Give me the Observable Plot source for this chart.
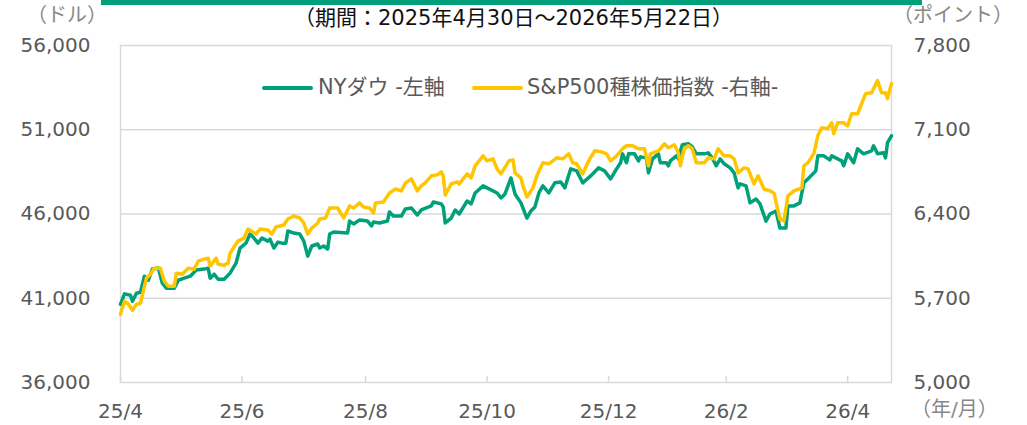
<!DOCTYPE html>
<html><head><meta charset="utf-8">
<script src="https://cdn.jsdelivr.net/npm/d3@7"></script>
<script src="https://cdn.jsdelivr.net/npm/@observablehq/plot@0.6"></script>
<style>
body{margin:0;background:#fff;}
#wrap{position:relative;width:1027px;height:425px;font-family:"DejaVu Sans","Noto Sans CJK JP",sans-serif;overflow:hidden;}
#wrap svg{position:absolute;left:0;top:0;}
.abs{position:absolute;white-space:nowrap;line-height:1;z-index:2;}
</style></head><body><div id="wrap"></div>
<script>
// ---- data ----
const xStart = "2025-04-30";
const xEnd = "2026-05-22";
const dowTicks = [36000, 41000, 46000, 51000, 56000];
const spTicks = [5000, 5700, 6400, 7100, 7800];
const tickDates = ["2025-04-30","2025-06-30","2025-08-31","2025-10-31","2025-12-31","2026-02-28","2026-04-30"];
const tickLabels = ["25/4","25/6","25/8","25/10","25/12","26/2","26/4"];
const titleText = "（期間：2025年4月30日～2026年5月22日）";
const leftUnit = "（ドル）", rightUnit = "（ポイント）", xUnit = "（年/月）";
const seriesNames = ["NYダウ -左軸", "S&P500種株価指数 -右軸-"];

const dowDates = ["2025-04-30","2025-05-02","2025-05-05","2025-05-06","2025-05-08","2025-05-10","2025-05-12","2025-05-14","2025-05-16","2025-05-19",
"2025-05-21","2025-05-23","2025-05-27","2025-05-29","2025-06-01","2025-06-04","2025-06-05","2025-06-07","2025-06-11","2025-06-13",
"2025-06-14","2025-06-16","2025-06-18","2025-06-21","2025-06-24","2025-06-27","2025-06-29","2025-07-02","2025-07-04","2025-07-06",
"2025-07-08","2025-07-10","2025-07-13","2025-07-14","2025-07-16","2025-07-18","2025-07-20","2025-07-22","2025-07-23","2025-07-26",
"2025-07-29","2025-07-31","2025-08-02","2025-08-04","2025-08-07","2025-08-08","2025-08-10","2025-08-12","2025-08-13","2025-08-15",
"2025-08-22","2025-08-23","2025-08-25","2025-08-28","2025-09-01","2025-09-03","2025-09-04","2025-09-07","2025-09-11","2025-09-12",
"2025-09-14","2025-09-18","2025-09-20","2025-09-23","2025-09-26","2025-09-28","2025-10-03","2025-10-04","2025-10-08","2025-10-09",
"2025-10-10","2025-10-13","2025-10-15","2025-10-17","2025-10-21","2025-10-23","2025-10-25","2025-10-29","2025-10-31","2025-11-05",
"2025-11-07","2025-11-09","2025-11-12","2025-11-14","2025-11-17","2025-11-20","2025-11-22","2025-11-24","2025-11-26","2025-11-28",
"2025-12-01","2025-12-04","2025-12-07","2025-12-09","2025-12-12","2025-12-15","2025-12-18","2025-12-22","2025-12-26","2025-12-29",
"2026-01-01","2026-01-04","2026-01-06","2026-01-07","2026-01-09","2026-01-10","2026-01-13","2026-01-15","2026-01-16","2026-01-19",
"2026-01-20","2026-01-22","2026-01-25","2026-01-26","2026-01-29","2026-01-30","2026-01-31","2026-02-03","2026-02-04","2026-02-06",
"2026-02-09","2026-02-11","2026-02-13","2026-02-17","2026-02-19","2026-02-21","2026-02-23","2026-02-25","2026-02-27","2026-03-02",
"2026-03-04","2026-03-06","2026-03-07","2026-03-10","2026-03-12","2026-03-15","2026-03-17","2026-03-20","2026-03-22","2026-03-25",
"2026-03-27","2026-03-30","2026-03-31","2026-04-03","2026-04-06","2026-04-08","2026-04-10","2026-04-14","2026-04-15","2026-04-18",
"2026-04-21","2026-04-22","2026-04-27","2026-04-28","2026-04-30","2026-05-03","2026-05-05","2026-05-08","2026-05-12","2026-05-13",
"2026-05-15","2026-05-18","2026-05-19","2026-05-20","2026-05-22"];
const dowValues = [40640,41260,41180,40820,41300,41360,42310,42070,42730,42790,
41890,41600,41600,42070,42190,42310,42430,42670,42730,42790,
42190,42430,42130,42130,42490,43080,43980,44270,44810,44570,
44270,44570,44390,44510,43980,44330,44270,44270,44990,44870,
44810,44390,43500,44100,44220,43980,44100,43920,44810,44930,
44870,45580,45410,45640,45580,45290,45520,45470,45580,46120,
45880,45880,46300,46360,45940,46240,46480,46710,46600,46420,
45470,45760,46240,46000,46770,46600,47250,47670,47550,47250,
46950,47190,48140,47190,46660,45760,46180,46420,47250,47670,
47250,47850,47900,47550,48680,48560,47850,48260,48740,48560,
48080,48680,49040,49570,49040,49570,49570,49150,49390,49330,
48440,49270,49570,49040,49040,48860,49150,49450,49270,50110,
50170,49990,49570,49570,49630,49330,48860,49270,48980,48740,
48440,47550,47790,47670,46660,46890,46600,45580,46000,46180,
45170,45170,46480,46480,46660,47850,48080,48560,49450,49450,
49210,49450,49150,48860,49570,49040,49870,49570,49750,50050,
49570,49630,49330,50230,50640];

const spDates = ["2025-04-30","2025-05-02","2025-05-04","2025-05-06","2025-05-08","2025-05-10","2025-05-13","2025-05-15","2025-05-17","2025-05-20",
"2025-05-22","2025-05-24","2025-05-27","2025-05-28","2025-05-31","2025-06-03","2025-06-06","2025-06-08","2025-06-11","2025-06-13",
"2025-06-14","2025-06-17","2025-06-18","2025-06-21","2025-06-23","2025-06-24","2025-06-28","2025-07-01","2025-07-03","2025-07-07",
"2025-07-09","2025-07-13","2025-07-15","2025-07-17","2025-07-21","2025-07-23","2025-07-26","2025-07-29","2025-07-31","2025-08-02",
"2025-08-04","2025-08-07","2025-08-08","2025-08-11","2025-08-13","2025-08-17","2025-08-20","2025-08-23","2025-08-25","2025-08-28",
"2025-08-30","2025-09-02","2025-09-04","2025-09-05","2025-09-09","2025-09-12","2025-09-15","2025-09-18","2025-09-20","2025-09-23",
"2025-09-26","2025-09-28","2025-09-30","2025-10-03","2025-10-06","2025-10-08","2025-10-09","2025-10-10","2025-10-13","2025-10-16",
"2025-10-17","2025-10-21","2025-10-23","2025-10-25","2025-10-29","2025-10-31","2025-11-03","2025-11-05","2025-11-07","2025-11-11",
"2025-11-13","2025-11-14","2025-11-17","2025-11-18","2025-11-20","2025-11-23","2025-11-25","2025-11-28","2025-12-01","2025-12-05",
"2025-12-08","2025-12-11","2025-12-13","2025-12-15","2025-12-18","2025-12-21","2025-12-24","2025-12-27","2025-12-30","2026-01-01",
"2026-01-04","2026-01-07","2026-01-09","2026-01-12","2026-01-15","2026-01-18","2026-01-20","2026-01-21","2026-01-25","2026-01-28",
"2026-01-30","2026-02-02","2026-02-04","2026-02-05","2026-02-07","2026-02-09","2026-02-11","2026-02-13","2026-02-17","2026-02-19",
"2026-02-22","2026-02-24","2026-02-27","2026-03-02","2026-03-04","2026-03-06","2026-03-09","2026-03-11","2026-03-14","2026-03-16",
"2026-03-19","2026-03-22","2026-03-24","2026-03-27","2026-03-29","2026-03-31","2026-04-03","2026-04-07","2026-04-08","2026-04-10",
"2026-04-13","2026-04-15","2026-04-17","2026-04-20","2026-04-22","2026-04-23","2026-04-25","2026-04-28","2026-04-30","2026-05-02",
"2026-05-05","2026-05-07","2026-05-09","2026-05-12","2026-05-15","2026-05-17","2026-05-19","2026-05-20","2026-05-21","2026-05-22"];
const spValues = [5567,5675,5650,5600,5650,5658,5867,5900,5950,5950,
5842,5800,5800,5908,5900,5950,5942,6008,6025,6033,
5967,6033,5983,5975,5992,6075,6175,6200,6275,6233,
6275,6267,6233,6292,6308,6358,6383,6367,6325,6233,
6283,6325,6358,6367,6450,6450,6367,6467,6450,6492,
6458,6450,6408,6492,6500,6575,6608,6592,6658,6692,
6592,6633,6658,6717,6725,6750,6717,6558,6650,6667,
6650,6733,6700,6800,6883,6842,6858,6775,6733,6842,
6850,6742,6700,6633,6542,6617,6717,6825,6817,6867,
6858,6900,6825,6817,6733,6842,6925,6917,6900,6842,
6883,6942,6967,6967,6942,6942,6800,6900,6925,6983,
6950,6975,6908,6800,6942,6967,6942,6825,6825,6867,
6858,6942,6883,6883,6858,6742,6783,6775,6650,6717,
6608,6592,6575,6358,6342,6550,6592,6617,6800,6825,
6900,7050,7117,7108,7158,7067,7158,7158,7133,7233,
7233,7317,7400,7408,7508,7408,7408,7358,7425,7483];

// ---- styles ----
const GREEN = "#00A07A", YELLOW = "#FFC600", GRID = "#d9d9d9", LABEL = "#595959", UNIT = "#888888";
const FONT = '"DejaVu Sans","Noto Sans CJK JP",sans-serif';

const parse = d3.utcParse("%Y-%m-%d");
const spToLeft = d3.scaleLinear().domain([spTicks[0], spTicks[spTicks.length-1]]).range([dowTicks[0], dowTicks[dowTicks.length-1]]);
const dow = dowDates.map((d, i) => ({date: parse(d), value: dowValues[i]}));
const sp = spDates.map((d, i) => ({date: parse(d), value: spToLeft(spValues[i])}));
const tickLabelMap = new Map(tickDates.map((d, i) => [+parse(d), tickLabels[i]]));
const fmt = d3.format(",");

const chart = Plot.plot({
  width: 1027, height: 425,
  marginTop: 45, marginBottom: 43, marginLeft: 120, marginRight: 136,
  style: {fontFamily: FONT, fontSize: "20px", color: LABEL, background: "transparent", overflow: "visible"},
  x: {type: "utc", domain: [parse(xStart), parse(xEnd)]},
  y: {domain: [dowTicks[0], dowTicks[dowTicks.length-1]]},
  marks: [
    Plot.ruleY(dowTicks.slice(1, -1), {stroke: GRID, strokeWidth: 1.5}),
    Plot.frame({stroke: GRID, strokeWidth: 1.5}),
    Plot.tickX(tickDates.map(parse), {x: d => d, stroke: GRID, strokeWidth: 1.5, insetTop: 331}),
    Plot.axisY({anchor: "left", ticks: dowTicks, tickSize: 0, tickPadding: 30, tickFormat: fmt, label: null, fill: LABEL, fontSize: 20}),
    Plot.axisY({anchor: "right", ticks: spTicks.map(spToLeft), tickSize: 0, tickPadding: 22,
      tickFormat: d => fmt(Math.round(spToLeft.invert(d))), label: null, fill: LABEL, fontSize: 20}),
    Plot.axisX({ticks: tickDates.map(parse), tickSize: 0, tickPadding: 21, tickFormat: d => tickLabelMap.get(+d), label: null, fill: LABEL, fontSize: 20}),
    Plot.lineY(dow, {x: "date", y: "value", stroke: GREEN, strokeWidth: 3.5, strokeLinejoin: "round"}),
    Plot.lineY(sp, {x: "date", y: "value", stroke: YELLOW, strokeWidth: 3.5, strokeLinejoin: "round"})
  ]
});
const wrap = document.getElementById("wrap");
wrap.appendChild(chart);

function addDiv(text, css) {
  const el = document.createElement("div");
  el.className = "abs";
  el.textContent = text;
  Object.assign(el.style, css);
  wrap.appendChild(el);
  return el;
}
// top accent bar
addDiv("", {left: "101px", top: "0px", width: "821px", height: "4.5px", background: GREEN});
// title
addDiv(titleText, {left: "0px", width: "1027px", textAlign: "center", top: "8px", fontSize: "21px", color: "#111"});
// units
addDiv(leftUnit, {right: "920px", top: "5px", fontSize: "20px", color: UNIT});
addDiv(rightUnit, {left: "893px", top: "5px", fontSize: "20px", color: UNIT});
addDiv(xUnit, {left: "911px", top: "399px", fontSize: "20px", color: UNIT});
// legend
addDiv("", {left: "262px", top: "86px", width: "51px", height: "4px", background: GREEN, borderRadius: "2px"});
addDiv(seriesNames[0], {left: "318px", top: "77px", fontSize: "21px", color: LABEL});
addDiv("", {left: "472px", top: "86px", width: "51px", height: "4px", background: YELLOW, borderRadius: "2px"});
addDiv(seriesNames[1], {left: "527px", top: "77px", fontSize: "21px", color: LABEL});
</script></body></html>
